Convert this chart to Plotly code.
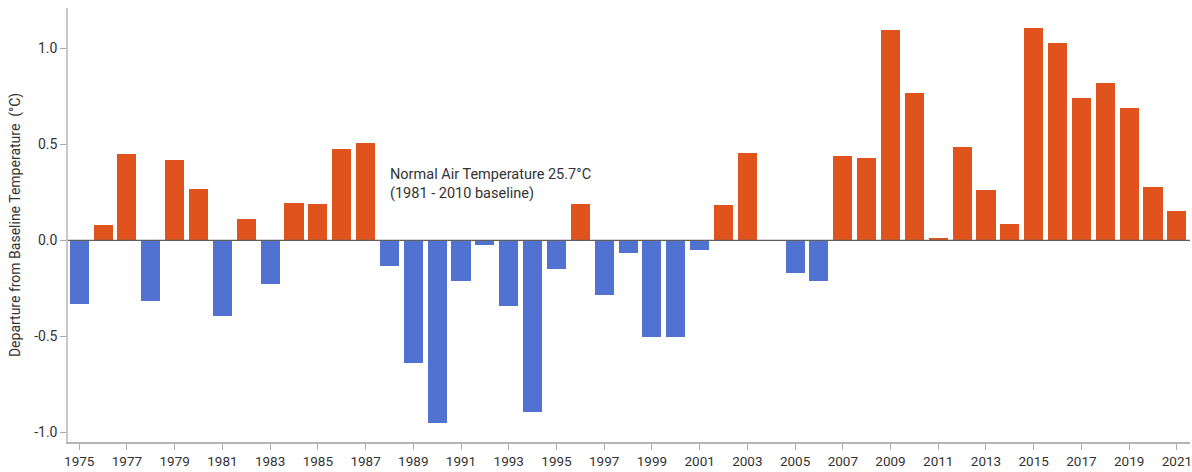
import plotly.graph_objects as go

# Annual departure of mean air temperature from the 1981-2010 baseline (°C)
years = list(range(1975, 2022))
departures = [
    -0.33, 0.08, 0.45, -0.316, 0.418, 0.265, -0.394, 0.109, -0.228, 0.193,
    0.19, 0.475, 0.505, -0.134, -0.637, -0.95, -0.214, -0.026, -0.34, -0.896,
    -0.151, 0.189, -0.283, -0.064, -0.505, -0.503, -0.05, 0.185, 0.453, None,
    -0.168, -0.21, 0.4375, 0.43, 1.094, 0.766, 0.012, 0.488, 0.262, 0.087,
    1.104, 1.028, 0.741, 0.819, 0.69, 0.279, 0.151,
]
year_ticks = list(range(1975, 2022, 2))
y_ticks = [-1.0, -0.5, 0.0, 0.5, 1.0]
y_tick_labels = ["-1.0", "-0.5", "0.0", "0.5", "1.0"]

WARM = "#E0531C"
COOL = "#5272D2"
FONT = "Roboto, Arial, sans-serif"

bar_colors = [WARM if (v is not None and v > 0) else COOL for v in departures]

fig = go.Figure()
fig.add_trace(go.Bar(
    x=years,
    y=departures,
    marker=dict(color=bar_colors, line=dict(width=0)),
    width=0.8,
    hoverinfo="x+y",
))

fig.add_hline(y=0, line=dict(color="#5e5e5e", width=1.3))

fig.add_annotation(
    x=1987.95, y=0.19, xref="x", yref="y",
    text="Normal Air Temperature 25.7°C<br>(1981 - 2010 baseline)",
    showarrow=False, xanchor="left", yanchor="bottom", align="left",
    font=dict(family=FONT, size=14.5, color="#333333"),
)

fig.update_layout(
    width=1192, height=472,
    margin=dict(l=68, r=2, t=8, b=30),
    paper_bgcolor="white", plot_bgcolor="white",
    showlegend=False,
    bargap=0,
    font=dict(family=FONT, size=14, color="#333333"),
    xaxis=dict(
        range=[1974.53, 2021.55],
        tickmode="array", tickvals=year_ticks,
        ticktext=[str(y) for y in year_ticks],
        ticks="outside", ticklen=6, tickcolor="#aaaaaa", tickwidth=1,
        ticklabeloverflow="allow", automargin=False,
        showline=True, linecolor="#b5b5b5", linewidth=1.5,
        showgrid=False, zeroline=False,
        tickfont=dict(family=FONT, size=13.5, color="#333333"),
    ),
    yaxis=dict(
        range=[-1.0505, 1.21],
        tickmode="array", tickvals=y_ticks, ticktext=y_tick_labels,
        ticks="outside", ticklen=6, tickcolor="#aaaaaa", tickwidth=1,
        showline=True, linecolor="#c8c8c8", linewidth=1.5,
        showgrid=False, zeroline=False,
        tickfont=dict(family=FONT, size=14, color="#333333"),
        title=dict(text="Departure from Baseline Temperature  (°C)",
                   font=dict(family=FONT, size=14, color="#333333"),
                   standoff=10),
    ),
)

fig.write_html("out.html")
